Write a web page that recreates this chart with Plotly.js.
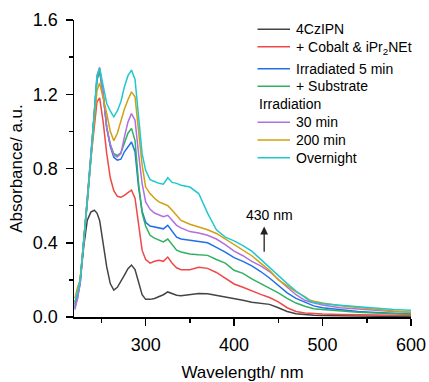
<!DOCTYPE html>
<html>
<head>
<meta charset="utf-8">
<script src="https://cdn.plot.ly/plotly-3.0.1.min.js"></script>
<style>html,body{margin:0;padding:0;background:#fff;}#chart{width:429px;height:382px;}</style>
</head>
<body>
<div id="chart"></div>
<script>
// Wavelength grid (nm)
const wavelength = [220,223,226,230,234,238,242,245,248,252,256,260,264,268,272,276,280,284,288,292,296,300,305,310,315,320,325,330,335,340,350,360,370,380,390,400,410,420,430,440,450,460,470,480,486,490,500,520,540,560,580,600];

const cz4 = [0.08,0.12,0.20,0.38,0.52,0.565,0.575,0.56,0.52,0.40,0.27,0.18,0.145,0.16,0.19,0.225,0.26,0.28,0.255,0.19,0.12,0.095,0.095,0.10,0.11,0.12,0.135,0.125,0.117,0.115,0.12,0.126,0.125,0.117,0.108,0.10,0.09,0.08,0.075,0.068,0.05,0.03,0.018,0.012,0.01,0.009,0.008,0.006,0.005,0.004,0.003,0.003];

const cobalt = [0.07,0.12,0.20,0.40,0.62,0.85,1.05,1.16,1.18,1.05,0.88,0.75,0.68,0.65,0.645,0.655,0.67,0.683,0.64,0.50,0.36,0.31,0.29,0.30,0.305,0.30,0.323,0.29,0.265,0.255,0.255,0.268,0.262,0.24,0.21,0.178,0.16,0.14,0.122,0.105,0.082,0.05,0.03,0.022,0.02,0.018,0.016,0.014,0.012,0.01,0.009,0.008];

const irr5 = [0.05,0.12,0.18,0.40,0.62,0.85,1.10,1.28,1.33,1.20,1.02,0.92,0.86,0.845,0.85,0.89,0.92,0.943,0.89,0.70,0.57,0.51,0.49,0.485,0.48,0.475,0.494,0.46,0.43,0.42,0.413,0.405,0.40,0.375,0.35,0.32,0.30,0.275,0.245,0.21,0.17,0.13,0.10,0.08,0.065,0.06,0.05,0.038,0.03,0.024,0.02,0.016];

const substrate = [0.06,0.10,0.20,0.40,0.62,0.85,1.10,1.28,1.32,1.20,1.02,0.93,0.88,0.87,0.885,0.94,0.99,1.016,0.95,0.72,0.56,0.49,0.44,0.425,0.415,0.405,0.42,0.39,0.36,0.35,0.34,0.335,0.332,0.31,0.29,0.252,0.235,0.205,0.18,0.155,0.13,0.10,0.075,0.058,0.05,0.045,0.04,0.032,0.026,0.022,0.018,0.015];

const min30 = [0.04,0.10,0.18,0.40,0.62,0.85,1.10,1.30,1.345,1.20,1.02,0.93,0.87,0.862,0.88,0.97,1.05,1.096,1.06,0.88,0.72,0.62,0.58,0.56,0.55,0.54,0.548,0.52,0.494,0.48,0.46,0.452,0.44,0.42,0.39,0.355,0.33,0.30,0.275,0.245,0.20,0.16,0.12,0.09,0.08,0.075,0.065,0.05,0.042,0.035,0.03,0.025];

const min200 = [0.10,0.16,0.20,0.42,0.64,0.86,1.08,1.22,1.26,1.18,1.096,1.00,0.95,0.99,1.06,1.12,1.17,1.213,1.186,1.00,0.82,0.70,0.665,0.64,0.62,0.61,0.60,0.575,0.548,0.52,0.50,0.485,0.47,0.45,0.42,0.39,0.36,0.33,0.29,0.252,0.20,0.165,0.135,0.11,0.09,0.085,0.075,0.06,0.05,0.04,0.032,0.026];

const overnight = [0.08,0.13,0.20,0.40,0.62,0.85,1.10,1.30,1.34,1.25,1.15,1.11,1.078,1.11,1.16,1.24,1.30,1.33,1.28,1.08,0.88,0.79,0.74,0.73,0.72,0.715,0.75,0.725,0.72,0.71,0.70,0.665,0.56,0.47,0.43,0.41,0.385,0.355,0.31,0.27,0.225,0.18,0.14,0.105,0.085,0.08,0.072,0.063,0.055,0.047,0.04,0.036];

const seriesNames = ['4CzIPN','+ Cobalt &amp; iPr<sub>2</sub>NEt','Irradiated 5 min','+ Substrate','30 min','200 min','Overnight'];
const seriesData = [cz4, cobalt, irr5, substrate, min30, min200, overnight];
const seriesColors = ['#444444','#f04848','#2070e8','#30b060','#b070e0','#d0a010','#20c8d0'];
const groupTitle = 'Irradiation';
const xTicks = [300,400,500,600];
const yTicks = [0.0,0.4,0.8,1.2,1.6];

const font = 'Liberation Sans, Arial, sans-serif';

const W = 429, H = 382, M = {l: 74, r: 18, t: 20, b: 65};
const pw = W - M.l - M.r, ph = H - M.t - M.b;
const px2x = px => (px - M.l) / pw;
const px2y = py => (H - M.b - py) / ph;

const traces = seriesData.map((ys, i) => ({
  x: wavelength, y: ys, type: 'scatter', mode: 'lines',
  name: seriesNames[i], showlegend: false,
  line: {color: seriesColors[i], width: 1.5}
}));

// Manual legend layout (positions in pixels)
const legendRowsY = [29.3, 46.7, 68.7, 86.3, 122.3, 140, 157.7];
const legendTextDy = [0, 1.8, 0, 0, 0, 0, 0];
const shapes = [];
const annotations = [];
seriesNames.forEach((nm, i) => {
  const yy = px2y(legendRowsY[i]);
  shapes.push({type: 'line', xref: 'paper', yref: 'paper',
    x0: px2x(257.5), x1: px2x(290), y0: yy, y1: yy,
    line: {color: seriesColors[i], width: 1.5}});
  annotations.push({xref: 'paper', yref: 'paper', x: px2x(293.5), y: px2y(legendRowsY[i] + legendTextDy[i]),
    xanchor: 'left', yanchor: 'middle', text: nm, showarrow: false,
    font: {family: font, size: 14, color: '#000'}});
});
annotations.push({xref: 'paper', yref: 'paper', x: px2x(257), y: px2y(104.3),
  xanchor: 'left', yanchor: 'middle', text: groupTitle, showarrow: false,
  font: {family: font, size: 14, color: '#000'}});

// 430 nm arrow and label
annotations.push({x: 434, y: 0.487, ax: 434, ay: 0.343, xref: 'x', yref: 'y', axref: 'x', ayref: 'y',
  text: '', showarrow: true, arrowhead: 2, arrowsize: 1.2, arrowwidth: 1.3, arrowcolor: '#222'});
annotations.push({x: 440, y: 0.55, xref: 'x', yref: 'y', text: '430 nm', showarrow: false,
  font: {family: font, size: 14, color: '#000'}});

const layout = {
  width: W, height: H,
  margin: M,
  paper_bgcolor: '#fff', plot_bgcolor: '#fff',
  font: {family: font, color: '#000'},
  showlegend: false,
  xaxis: {
    range: [219, 600], showgrid: false, zeroline: false,
    showline: true, linecolor: '#000', linewidth: 1.5,
    ticks: 'outside', ticklen: 7, tickwidth: 1.5, tickcolor: '#000',
    tickvals: xTicks, ticktext: xTicks.map(String), ticklabelstandoff: 4,
    tickfont: {family: font, size: 18, color: '#000'},
    minor: {tickvals: [250,350,450,550], ticks: 'outside', ticklen: 4, tickwidth: 1.5, tickcolor: '#000'},
    title: {text: 'Wavelength/ nm', font: {family: font, size: 17, color: '#000'}, standoff: 12}
  },
  yaxis: {
    range: [0, 1.6], showgrid: false, zeroline: false,
    showline: true, linecolor: '#000', linewidth: 1.5,
    ticks: 'outside', ticklen: 7, tickwidth: 1.5, tickcolor: '#000',
    tickvals: yTicks, ticktext: yTicks.map(v => v.toFixed(1)), ticklabelstandoff: 4,
    tickfont: {family: font, size: 18, color: '#000'},
    minor: {tickvals: [0.2,0.6,1.0,1.4], ticks: 'outside', ticklen: 4, tickwidth: 1.5, tickcolor: '#000'},
    title: {text: 'Absorbance/ a.u.', font: {family: font, size: 17, color: '#000'}, standoff: 6}
  },
  shapes: shapes,
  annotations: annotations
};

Plotly.newPlot('chart', traces, layout, {displayModeBar: false, staticPlot: true});
</script>
</body>
</html>
